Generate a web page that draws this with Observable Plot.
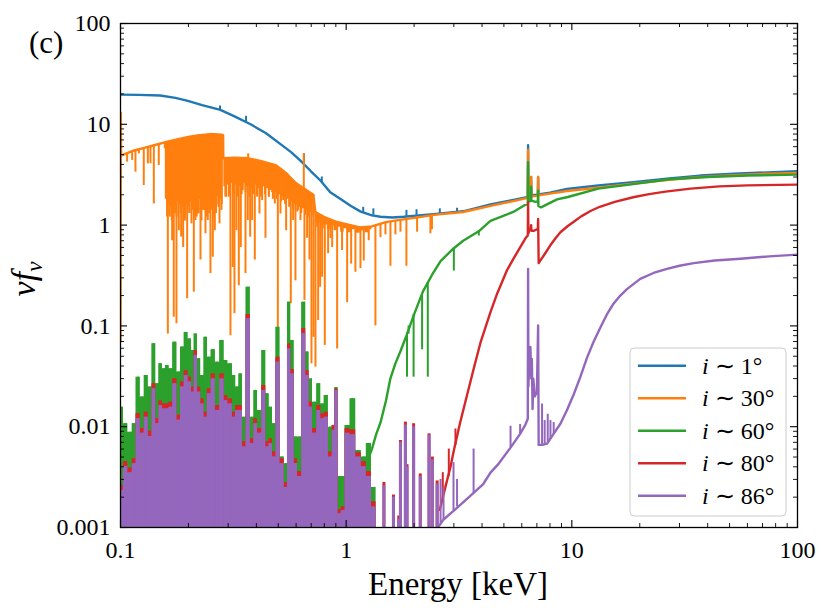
<!DOCTYPE html>
<html><head><meta charset="utf-8">
<script src="https://cdn.jsdelivr.net/npm/d3@7"></script>
<script src="https://cdn.jsdelivr.net/npm/@observablehq/plot@0.6"></script>
<style>
body{margin:0;background:#fff;}
#wrap{position:relative;width:831px;height:616px;font-family:"Liberation Serif",serif;}
#wrap svg.over{position:absolute;left:0;top:0;pointer-events:none;}
</style></head><body><div id="wrap"></div><script>
// ---- tick values / labels ----
const xMajor = [0.1, 1, 10, 100];
const xMajorLabels = ["0.1", "1", "10", "100"];
const xMinor = [0.2,0.3,0.4,0.5,0.6,0.7,0.8,0.9,2,3,4,5,6,7,8,9,20,30,40,50,60,70,80,90];
const yMajor = [0.001, 0.01, 0.1, 1, 10, 100];
const yMajorLabels = ["0.001", "0.01", "0.1", "1", "10", "100"];
const yMinor = [0.002,0.003,0.004,0.005,0.006,0.007,0.008,0.009,0.02,0.03,0.04,0.05,0.06,0.07,0.08,0.09,
  0.2,0.3,0.4,0.5,0.6,0.7,0.8,0.9,2,3,4,5,6,7,8,9,20,30,40,50,60,70,80,90];

// ---- series names ----
const seriesNames = ["1", "30", "60", "80", "86"];

// ---- i ~ 1 deg : continuum [E, value] and narrow features [E, from, to] ----
const blueCurve = [[0.1,19.7],[0.12,19.6],[0.15,19.3],[0.175,18.3],[0.197,17.2],[0.23,15.5],[0.277,13.9],[0.32,12],[0.377,10],[0.44,8.2],[0.51,6.4],[0.57,5.3],[0.627,4.37],[0.7,3.4],[0.769,2.77],[0.85,2.12],[0.944,1.82],[1.05,1.55],[1.16,1.36],[1.3,1.25],[1.42,1.21],[1.6,1.19],[1.8,1.21],[2.1,1.25],[2.5,1.29],[3.3,1.37],[4.36,1.6],[5.3,1.75],[6.1,1.86],[6.38,1.9],[6.4,6.2],[6.42,1.95],[6.58,1.97],[6.6,3.0],[6.62,1.98],[7.07,2.0],[7.09,3.0],[7.11,2.02],[8.0,2.1],[9.5,2.28],[13.1,2.47],[18.7,2.67],[27,2.9],[37,3.1],[55,3.25],[100,3.42]];
const blueLines = [[0.276,13.9,15.2],[0.36,10.6,12],[0.65,4.1,5.1],[0.78,2.65,3.0],[1.19,1.33,1.5],[1.32,1.25,1.45],[1.85,1.22,1.4],[2.05,1.25,1.42],[2.6,1.3,1.45],[3.1,1.35,1.47]];

// ---- i ~ 30 deg ----
const orangeCurve = [[0.1,0.07],[0.1003,13],[0.1006,4.9],[0.105,5.1],[0.115,5.5],[0.13,5.9],[0.145,6.3],[0.16,6.7],[0.18,7.1],[0.2,7.5],[0.22,7.75],[0.25,8.0],[0.28,7.9],[0.285,7.8],[0.2855,4.6],[0.32,4.65],[0.37,4.6],[0.42,4.3],[0.49,3.9],[0.54,3.3],[0.6,2.6],[0.66,2.25],[0.715,2.0],[0.73,1.35],[0.8,1.2],[0.9,1.08],[1.0,1.02],[1.15,0.95],[1.3,0.97],[1.5,1.07],[1.7,1.12],[2.0,1.18],[2.5,1.27],[3.3,1.35],[4.36,1.55],[6.1,1.82],[6.38,1.86],[6.4,5.6],[6.42,1.9],[6.58,1.92],[6.6,3.0],[6.62,1.93],[7.07,1.95],[7.09,3.0],[7.11,1.97],[8.0,2.05],[9.5,2.18],[13.1,2.35],[18.7,2.58],[27,2.82],[37,3.0],[55,3.15],[100,3.3]];
// blended absorption troughs: [E, lower, upper]
const orangeBandA = [[0.158,1.8,6.65],[0.162,1.2,6.7],[0.166,1.6,6.8],[0.17,1.1,6.9],[0.174,1.5,7.0],[0.178,1.2,7.05],[0.182,1.7,7.1],[0.186,1.3,7.2],[0.19,1.5,7.3],[0.194,1.1,7.4],[0.198,1.6,7.45],[0.203,1.3,7.5],[0.208,1.7,7.6],[0.213,1.2,7.65],[0.218,1.5,7.72],[0.223,1.3,7.78],[0.228,1.8,7.82],[0.233,1.4,7.85],[0.238,1.6,7.9],[0.243,1.2,7.95],[0.248,1.7,7.98],[0.253,1.4,8.0],[0.258,1.6,8.0],[0.263,1.3,8.0],[0.268,1.9,7.95],[0.273,1.5,7.92],[0.278,1.8,7.9],[0.2853,1.6,7.8]];
const orangeBandB = [[0.287,2.4,4.6],[0.293,1.9,4.6],[0.299,2.5,4.6],[0.305,2.0,4.6],[0.311,2.6,4.62],[0.318,2.1,4.65],[0.325,2.5,4.65],[0.332,1.9,4.65],[0.339,2.4,4.65],[0.346,2.0,4.62],[0.353,2.6,4.6],[0.36,2.1,4.6],[0.367,2.4,4.6],[0.374,1.9,4.55],[0.381,2.3,4.5],[0.389,2.0,4.47],[0.397,2.5,4.42],[0.405,2.0,4.38],[0.413,2.3,4.35],[0.421,1.9,4.3],[0.43,2.4,4.25],[0.439,2.0,4.2],[0.448,2.3,4.15],[0.457,1.9,4.08],[0.466,2.2,4.02],[0.476,1.8,3.95],[0.486,2.1,3.9],[0.496,1.8,3.82],[0.506,2.0,3.72],[0.517,1.7,3.6],[0.528,1.9,3.48],[0.539,1.6,3.33],[0.55,1.8,3.18],[0.562,1.5,3.0],[0.574,1.7,2.88],[0.586,1.4,2.75],[0.598,1.6,2.62],[0.61,1.35,2.52],[0.623,1.5,2.44],[0.636,1.3,2.37],[0.649,1.45,2.3],[0.662,1.25,2.24],[0.675,1.4,2.18],[0.688,1.2,2.1],[0.701,1.35,2.05],[0.715,1.2,2.0]];
const orangeBandC = [[0.731,1.05,1.35],[0.75,0.95,1.3],[0.77,1.05,1.26],[0.79,0.92,1.22],[0.81,1.0,1.19],[0.84,0.9,1.15],[0.87,0.98,1.11],[0.9,0.88,1.08],[0.93,0.95,1.06],[0.96,0.85,1.04],[1.0,0.92,1.02],[1.04,0.84,1.0],[1.08,0.9,0.97],[1.13,0.83,0.95],[1.18,0.88,0.95],[1.24,0.84,0.96],[1.3,0.9,0.97]];
const orangeLines = [
 [0.107,5.2,4.21],[0.1126,5.4,4.38],[0.1165,5.5,3.35],[0.1206,5.6,5.09],[0.1268,5.8,2.47],[0.1322,5.95,4.05],[0.1358,6.05,4.05],[0.1405,6.2,1.62],[0.1478,6.4,3.9],[0.1572,6.6,5.71],
 [0.1621,6.7,0.083],[0.1654,6.8,1.2],[0.1675,6.85,1.5],[0.1694,6.9,0.70],[0.1722,6.95,0.122],[0.1745,7.0,1.3],[0.177,7.05,0.105],[0.1813,7.1,0.88],[0.1835,7.15,1.6],[0.1857,7.2,0.76],[0.1895,7.3,0.60],[0.1918,7.35,1.2],[0.1941,7.4,1.40],[0.1974,7.45,0.186],[0.2,7.48,1.5],[0.2022,7.5,3.23],[0.2063,7.55,1.03],[0.2085,7.6,1.4],[0.2113,7.65,0.216],[0.2149,7.7,1.11],[0.2175,7.72,1.2],[0.2201,7.75,1.29],[0.2235,7.78,1.8],[0.2262,7.8,0.45],[0.2285,7.82,1.1],[0.2316,7.85,1.62],[0.2345,7.88,1.4],[0.238,7.9,0.82],[0.241,7.92,1.6],[0.2437,7.95,1.11],[0.247,7.98,1.3],[0.2504,8.0,0.33],[0.2535,8.0,1.5],[0.2565,8.0,0.48],[0.259,8.0,1.2],[0.2618,8.0,0.88],[0.265,7.98,1.3],[0.2681,7.95,2.38],[0.2715,7.92,1.6],[0.2746,7.9,1.03],[0.2775,7.9,1.9],[0.2802,7.9,1.40],
 [0.2938,4.6,1.89],[0.302,4.6,1.89],[0.3071,4.6,0.080],[0.3145,4.65,0.38],[0.3199,4.65,0.132],[0.3265,4.65,0.88],[0.3344,4.65,0.25],[0.3413,4.6,0.60],[0.3483,4.6,2.20],[0.358,4.6,0.33],[0.3665,4.6,1.11],[0.3754,4.55,0.76],[0.3831,4.5,1.11],[0.3937,4.45,0.45],[0.4032,4.4,1.89],[0.4129,4.35,1.29],[0.4243,4.3,1.75],[0.439,4.2,0.74],[0.4543,4.1,1.89],[0.47,4.0,2.1],[0.483,3.92,1.62],[0.498,3.8,0.097],[0.5117,3.65,1.29],[0.5258,3.5,1.75],[0.542,3.3,0.88],[0.557,3.1,1.89],[0.5684,2.95,0.166],[0.5821,2.8,1.11],[0.5961,2.65,0.28],[0.6125,2.5,1.40],[0.6273,2.42,1.11],[0.6424,2.33,1.62],[0.6534,2.28,0.179],[0.6714,2.2,0.74],[0.6876,2.1,0.45],[0.7018,2.05,0.042],[0.7163,2.0,0.077],[0.7311,1.35,0.039],[0.7513,1.3,0.113],[0.7668,1.27,0.242],[0.7826,1.24,0.304],[0.8042,1.2,0.064],[0.8318,1.16,0.52],[0.8519,1.13,0.735],
 [0.867,1.11,0.60],[0.912,1.07,0.059],[0.959,1.04,0.56],[1.01,1.01,0.17],[1.052,0.99,0.41],[1.099,0.96,0.34],[1.157,0.95,0.37],[1.197,0.95,0.44],[1.259,0.96,0.70],[1.348,0.98,0.10],[1.419,1.02,0.75],[1.493,1.07,0.8],[1.571,1.09,0.39],[1.653,1.11,0.8],[1.74,1.13,0.85],[1.849,1.15,0.39],[2.062,1.19,0.85],[2.362,1.24,0.82],[2.4,1.25,0.9],
 [0.649,2.3,5.1],[0.368,4.6,5.1]];

// ---- i ~ 60 deg ----
const greenCurve = [[1.24,0.0045],[1.3,0.006],[1.36,0.0085],[1.42,0.011],[1.5,0.018],[1.57,0.03],[1.65,0.042],[1.74,0.056],[1.85,0.08],[2.0,0.13],[2.19,0.22],[2.4,0.32],[2.62,0.44],[3.0,0.59],[3.3,0.7],[3.9,0.88],[4.36,1.1],[5.5,1.35],[6.2,1.58],[6.38,1.62],[6.4,4.2],[6.42,1.7],[6.58,1.75],[6.6,2.4],[6.62,1.75],[6.9,1.7],[7.07,1.72],[7.09,2.2],[7.11,1.55],[7.3,1.5],[8.6,1.8],[9.6,1.9],[13.1,2.3],[18.7,2.55],[27,2.85],[40,3.0],[60,3.1],[100,3.17]];
const greenLines = [[1.86,0.085,0.031],[1.89,0.1,0.083],[1.99,0.13,0.031],[2.17,0.2,0.058],[2.3,0.27,0.031],[3.0,0.59,0.35],[3.87,0.88,0.78]];

// ---- i ~ 80 deg ----
const redCurve = [[2.6,0.0015],[2.75,0.0025],[2.9,0.004],[3.0,0.0058],[3.2,0.011],[3.44,0.021],[3.7,0.04],[3.95,0.07],[4.36,0.137],[4.67,0.21],[5.17,0.36],[5.5,0.46],[5.9,0.6],[6.23,0.74],[6.38,0.79],[6.4,1.69],[6.42,0.83],[6.5,0.9],[6.58,0.92],[6.6,1.0],[6.62,0.88],[6.8,0.88],[7.07,0.92],[7.09,1.15],[7.13,0.42],[7.26,0.446],[7.6,0.52],[8.03,0.63],[8.5,0.75],[8.9,0.85],[9.6,0.98],[10.2,1.08],[11,1.22],[12.1,1.38],[13.3,1.52],[15.5,1.7],[18.7,1.89],[22,2.03],[26,2.15],[33.6,2.3],[45,2.42],[60,2.48],[100,2.52]];
const redLines = [[2.68,0.0018,0.0035],[2.85,0.0032,0.006],[3.05,0.0065,0.0095]];

// ---- i ~ 86 deg ----
const purpleCurve = [[2.55,0.001],[2.7,0.0012],[3.0,0.00147],[3.5,0.002],[4.05,0.0027],[4.36,0.0035],[4.7,0.0042],[5.35,0.0062],[5.9,0.0085],[6.23,0.0105],[6.38,0.012],[6.4,0.368],[6.42,0.025],[6.46,0.055],[6.5,0.03],[6.55,0.062],[6.6,0.035],[6.65,0.047],[6.7,0.015],[6.75,0.03],[6.85,0.02],[7.0,0.022],[7.09,0.101],[7.13,0.0066],[7.4,0.0066],[7.77,0.0068],[8.3,0.0085],[8.9,0.0107],[9.5,0.0145],[10.2,0.021],[10.9,0.031],[11.7,0.049],[12.5,0.07],[13.4,0.097],[14.3,0.13],[15.3,0.166],[16.4,0.2],[17.6,0.233],[20.1,0.293],[23,0.335],[26.4,0.368],[30,0.395],[34.7,0.419],[43,0.445],[55.8,0.463],[75,0.49],[100,0.51]];
const purpleLines = [[2.62,0.0011,0.003],[2.7,0.0012,0.0025],[2.99,0.00147,0.0044],[3.1,0.0016,0.003],[3.67,0.0022,0.006],[5.35,0.0062,0.0101],[5.9,0.0085,0.0105],[7.38,0.0066,0.0168],[7.58,0.0067,0.0115],[7.82,0.0069,0.0133],[8.04,0.0075,0.0115],[8.31,0.0085,0.011]];

// ---- soft-band line forest (60, 80, 86 deg) ----
const forestE = [0.101,0.105,0.1107,0.1146,0.1197,0.1247,0.130,0.135,0.1405,0.1453,0.1503,0.1555,0.161,0.1665,0.174,0.1813,0.1875,0.1953,0.2021,0.209,0.2148,0.2222,0.2299,0.2381,0.2462,0.2576,0.268,0.2821,0.2918,0.307,0.3177,0.3287,0.340,0.3516,0.368,0.383,0.3962,0.413,0.4317,0.4467,0.462,0.478,0.4977,0.520,0.542,0.557,0.5765,0.5963,0.621,0.649,0.671,0.695,0.7235,0.7565,0.782,0.815,0.852,0.881,0.902,0.933,0.966,1.01,1.07,1.137,1.197,1.26,1.33,1.47,1.62,1.71,1.74,1.83,1.86,1.99,2.13,2.33,2.41,2.53];
const forestGreen = [0.0156,0.0107,0.0088,0.0107,0.031,0.0197,0.0322,0.0247,0.0665,0.0267,0.0421,0.0375,0.0405,0.0375,0.069,0.0348,0.0616,0.0862,0.0743,0.0571,0.083,0.0473,0.0322,0.0771,0.049,0.058,0.0437,0.0716,0.0454,0.0421,0.0322,0.0247,0.0334,0.0124,0.242,0.0124,0.0229,0.0145,0.0571,0.0212,0.0156,0.0107,0.097,0.0050,0.0043,0.172,0.0716,0.0079,0.0079,0.172,0.055,0.0298,0.0175,0.0267,0.0168,0.0204,0.0099,0.0103,0.0245,0.0032,0.0032,0.0103,0.0189,0.0058,0.0050,0.0068,0.0025,null,null,null,null,null,null,null,null,null,null,null];
const forestRed = [0.0026,0.0045,0.0039,0.0048,0.0135,0.0096,0.0139,0.009,0.0266,0.012,0.018,0.0168,0.0168,0.0175,0.030,0.013,0.0277,0.036,0.031,0.0246,0.057,0.0246,0.0188,0.0139,0.0237,0.0334,0.0162,0.0334,0.0203,0.0188,0.0139,0.0162,0.0162,0.0071,0.13,0.0076,0.012,0.0096,0.0256,0.0071,0.0076,0.0056,0.049,0.0048,0.0028,0.066,0.037,0.0048,0.0036,0.094,0.036,0.0175,0.0096,0.0162,0.0134,0.0139,0.0056,0.0103,0.0236,0.0015,0.0016,0.0096,0.0093,0.0055,0.0045,0.0036,0.0018,0.0028,0.0021,0.0013,0.0073,0.0111,0.0042,0.0107,0.0034,0.0085,0.0050,0.0029];
const forestPurple = [0.00233,0.0040,0.0035,0.0043,0.012,0.0086,0.0124,0.0080,0.0238,0.0107,0.0162,0.0150,0.0150,0.0156,0.0267,0.0116,0.0247,0.0322,0.0277,0.022,0.051,0.022,0.0168,0.0124,0.0212,0.0298,0.0145,0.0298,0.0181,0.0168,0.0124,0.0145,0.0145,0.0063,0.118,0.0068,0.0107,0.0086,0.0229,0.0063,0.0068,0.0050,0.0437,0.0043,0.0025,0.059,0.0334,0.0043,0.0032,0.084,0.0322,0.0156,0.0086,0.0145,0.0120,0.0124,0.0050,0.0092,0.0229,0.00136,0.00147,0.0086,0.0083,0.0050,0.0040,0.0032,0.0016,0.0026,0.0020,0.0012,0.0070,0.0104,0.0040,0.0100,0.0032,0.0082,0.0047,0.0027];

const colors = ["#1f77b4", "#ff7f0e", "#2ca02c", "#d62728", "#9467bd"];
const FLOOR = 0.001;

const forest = forestE.map((e, i) => ({e, g: forestGreen[i], r: forestRed[i], p: forestPurple[i]}));
const forestDense = forest.filter(d => d.g != null);
const X = d => d[0], Y = d => d[1];

function curve(data, c) {
  return Plot.line(data, {x: X, y: Y, stroke: c, strokeWidth: 2.4, clip: true});
}
function lines(data, c, w = 2) {
  return Plot.ruleX(data, {x: X, y1: d => d[1], y2: d => d[2], stroke: c, strokeWidth: w, clip: true});
}
function band(data, c) {
  return Plot.areaY(data, {x: X, y1: d => d[1], y2: d => d[2], curve: "step", fill: c, clip: true});
}
function forestMarks(key, c) {
  return [
    Plot.areaY(forestDense, {x: "e", y1: FLOOR, y2: key, curve: "step", fill: c, clip: true}),
    Plot.ruleX(forest, {x: "e", y1: FLOOR, y2: key, stroke: c, strokeWidth: 3, clip: true})
  ];
}
const fmtX = new Map(xMajor.map((v, i) => [v, xMajorLabels[i]]));
const fmtY = new Map(yMajor.map((v, i) => [v, yMajorLabels[i]]));

const plot = Plot.plot({
  width: 831, height: 616,
  marginLeft: 120, marginRight: 34, marginTop: 23, marginBottom: 89,
  style: {fontFamily: "Liberation Serif, serif", fontSize: "24px", background: "white", color: "black"},
  x: {type: "log", domain: [0.1, 100]},
  y: {type: "log", domain: [0.001, 100]},
  marks: [
    curve(blueCurve, colors[0]), lines(blueLines, colors[0]),
    band(orangeBandA, colors[1]), band(orangeBandB, colors[1]), band(orangeBandC, colors[1]),
    curve(orangeCurve, colors[1]), lines(orangeLines, colors[1]),
    ...forestMarks("g", colors[2]), curve(greenCurve, colors[2]), lines(greenLines, colors[2]),
    ...forestMarks("r", colors[3]), curve(redCurve, colors[3]), lines(redLines, colors[3]),
    ...forestMarks("p", colors[4]), curve(purpleCurve, colors[4]), lines(purpleLines, colors[4]),
    Plot.frame({stroke: "black", strokeWidth: 1.3}),
    Plot.tickX(xMajor, {x: d => d, insetTop: 497, strokeWidth: 1.1}),
    Plot.tickX(xMajor, {x: d => d, insetBottom: 497, strokeWidth: 1.1}),
    Plot.tickX(xMinor, {x: d => d, insetTop: 500, strokeWidth: 0.9}),
    Plot.tickX(xMinor, {x: d => d, insetBottom: 500, strokeWidth: 0.9}),
    Plot.tickY(yMajor, {y: d => d, insetRight: 670, strokeWidth: 1.1}),
    Plot.tickY(yMajor, {y: d => d, insetLeft: 670, strokeWidth: 1.1}),
    Plot.tickY(yMinor, {y: d => d, insetRight: 673, strokeWidth: 0.9}),
    Plot.tickY(yMinor, {y: d => d, insetLeft: 673, strokeWidth: 0.9}),
    Plot.axisX({ticks: xMajor, tickFormat: d => fmtX.get(d), tickSize: 0, tickPadding: 13, label: null, fontFamily: "Liberation Serif"}),
    Plot.axisY({ticks: yMajor, tickFormat: d => fmtY.get(d), tickSize: 0, tickPadding: 10, label: null, fontFamily: "Liberation Serif"})
  ]
});
const wrap = document.getElementById("wrap");
wrap.appendChild(plot);

// ---- overlay: panel tag, axis titles, legend ----
const over = d3.select(wrap).append("svg").attr("class", "over")
  .attr("width", 831).attr("height", 616)
  .attr("font-family", "Liberation Serif, serif");
over.append("text").attr("x", 29).attr("y", 53).attr("font-size", 31).text("(c)");
over.append("text").attr("x", 458).attr("y", 595).attr("font-size", 33)
  .attr("text-anchor", "middle").text("Energy [keV]");
const yl = over.append("text").attr("transform", "translate(35,279) rotate(-90)")
  .attr("font-size", 34).attr("text-anchor", "middle").attr("font-style", "italic");
yl.append("tspan").text("νf");
yl.append("tspan").attr("font-size", 23).attr("dy", 7).text("ν");

const lg = over.append("g");
lg.append("rect").attr("x", 630).attr("y", 348).attr("width", 156).attr("height", 168)
  .attr("rx", 4).attr("fill", "white").attr("fill-opacity", 0.85).attr("stroke", "#cccccc").attr("stroke-width", 1);
seriesNames.forEach((n, k) => {
  const yy = 365.7 + 32.5 * k;
  lg.append("line").attr("x1", 638).attr("x2", 686).attr("y1", yy).attr("y2", yy)
    .attr("stroke", colors[k]).attr("stroke-width", 2.6);
  const t = lg.append("text").attr("x", 702).attr("y", yy + 8).attr("font-size", 24);
  t.append("tspan").attr("font-style", "italic").text("i");
  t.append("tspan").text(" \u223C " + n + "\u00B0");
});
</script></body></html>
